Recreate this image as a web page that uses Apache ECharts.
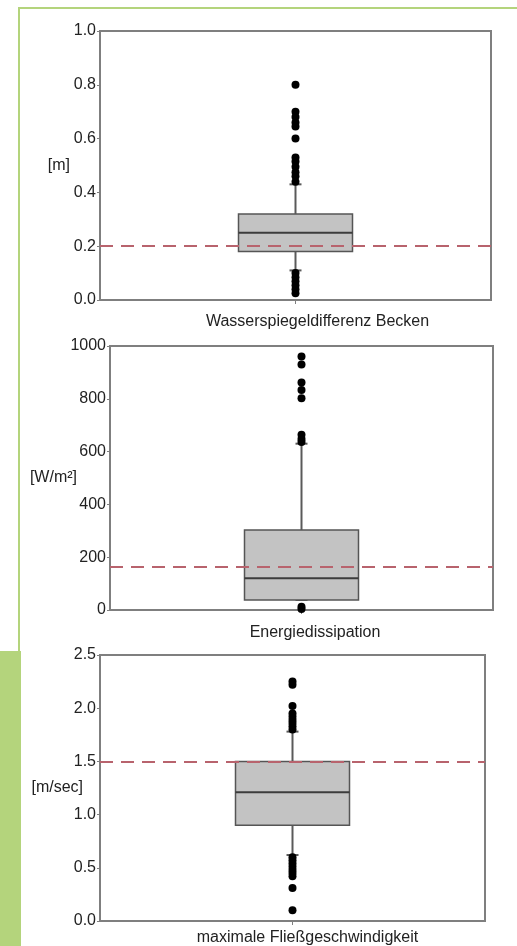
<!DOCTYPE html>
<html>
<head>
<meta charset="utf-8">
<title>Boxplots</title>
<script src="https://cdn.jsdelivr.net/npm/echarts@6/dist/echarts.min.js"></script>
<style>
  html, body { margin: 0; padding: 0; background: #ffffff; }
  #chart { width: 517px; height: 946px; }
</style>
</head>
<body>
<div id="chart"></div>
<script>
// Categories (one box per panel)
const categories = [
  'Wasserspiegeldifferenz Becken',
  'Energiedissipation',
  'maximale Fließgeschwindigkeit'
];

// Axis unit names
const unitNames = ['[m]', '[W/m²]', '[m/sec]'];

// Box statistics: [lower whisker, Q1, median, Q3, upper whisker]
const boxWasserspiegel = [0.11, 0.18, 0.25, 0.32, 0.43];
const boxEnergie = [38, 38, 120, 303, 630];
const boxFliess = [0.62, 0.90, 1.21, 1.50, 1.78];

// Outliers
const outWasserspiegel = [0.80, 0.70, 0.68, 0.66, 0.645, 0.60, 0.53, 0.515, 0.495, 0.475, 0.46, 0.44,
  0.10, 0.085, 0.07, 0.055, 0.04, 0.025];
const outEnergie = [960, 930, 862, 833, 802, 664, 648, 636, 12, 4];
const outFliess = [2.25, 2.22, 2.02, 1.95, 1.92, 1.89, 1.86, 1.83, 1.80,
  0.60, 0.57, 0.54, 0.51, 0.48, 0.45, 0.42, 0.31, 0.10];

// Reference (threshold) values
const refValues = [0.2, 162, 1.5];

// Y axis ranges and tick labels
const yMin = [0, 0, 0];
const yMax = [1.0, 1000, 2.5];
const yInterval = [0.2, 200, 0.5];
const ticksWasserspiegel = ['0.0', '0.2', '0.4', '0.6', '0.8', '1.0'];
const ticksEnergie = ['0', '200', '400', '600', '800', '1000'];
const ticksFliess = ['0.0', '0.5', '1.0', '1.5', '2.0', '2.5'];

const boxes = [boxWasserspiegel, boxEnergie, boxFliess];
const outliers = [outWasserspiegel, outEnergie, outFliess];
const tickLabels = [ticksWasserspiegel, ticksEnergie, ticksFliess];

// Panel layout
const grids = [
  { left: 100, right: 26, top: 31, height: 269 },
  { left: 110, right: 24, top: 346, height: 264 },
  { left: 100, right: 32, top: 655, height: 267 }
];
const nameGaps = [30, 33, 17];
const catLabelShift = [44, 27, 30];
const catLabelMargin = [14, 15, 9];

const FONT = '"Liberation Sans", Arial, sans-serif';
const TEXT = '#222222';
const AXIS = '#7f7f7f';

function renderBox(params, api) {
  const c = api.value(0);
  const pMin = api.coord([c, api.value(1)]);
  const pQ1 = api.coord([c, api.value(2)]);
  const pMed = api.coord([c, api.value(3)]);
  const pQ3 = api.coord([c, api.value(4)]);
  const pMax = api.coord([c, api.value(5)]);
  const x = pMed[0];
  const hw = 57;
  const cap = 6;
  const whisker = { stroke: '#5a5a5a', lineWidth: 2 };
  return {
    type: 'group',
    children: [
      { type: 'line', shape: { x1: x, y1: pQ3[1], x2: x, y2: pMax[1] }, style: whisker },
      { type: 'line', shape: { x1: x, y1: pQ1[1], x2: x, y2: pMin[1] }, style: whisker },
      { type: 'line', shape: { x1: x - cap, y1: pMax[1], x2: x + cap, y2: pMax[1] }, style: whisker },
      { type: 'line', shape: { x1: x - cap, y1: pMin[1], x2: x + cap, y2: pMin[1] }, style: whisker },
      {
        type: 'rect',
        shape: { x: x - hw, y: pQ3[1], width: hw * 2, height: pQ1[1] - pQ3[1] },
        style: { fill: '#c3c3c3', stroke: '#555555', lineWidth: 1.5 }
      },
      { type: 'line', shape: { x1: x - hw, y1: pMed[1], x2: x + hw, y2: pMed[1] },
        style: { stroke: '#3c3c3c', lineWidth: 2 } }
    ]
  };
}

const option = {
  backgroundColor: '#ffffff',
  animation: false,
  textStyle: { fontFamily: FONT },
  graphic: [
    // light green page frame
    { type: 'rect', shape: { x: 19, y: 7, width: 498, height: 2 }, style: { fill: '#b4d47c' }, silent: true },
    { type: 'rect', shape: { x: 18, y: 7, width: 2, height: 645 }, style: { fill: '#b4d47c' }, silent: true },
    { type: 'rect', shape: { x: 0, y: 651, width: 21, height: 295 }, style: { fill: '#b4d47c' }, silent: true }
  ],
  grid: grids.map(g => Object.assign({
    show: true, borderColor: AXIS, borderWidth: 2, backgroundColor: 'transparent'
  }, g)),
  xAxis: categories.map((cat, i) => ({
    type: 'category',
    gridIndex: i,
    data: [cat],
    axisLine: { show: true, lineStyle: { color: AXIS, width: 2 } },
    axisTick: { show: true, alignWithLabel: true, length: 4, lineStyle: { color: AXIS } },
    axisLabel: {
      color: TEXT, fontSize: 16, fontFamily: FONT,
      margin: catLabelMargin[i],
      padding: [0, 0, 0, catLabelShift[i]]
    },
    splitLine: { show: false }
  })),
  yAxis: unitNames.map((nm, i) => ({
    type: 'value',
    gridIndex: i,
    min: yMin[i],
    max: yMax[i],
    interval: yInterval[i],
    name: nm,
    nameLocation: 'middle',
    nameRotate: 0,
    nameGap: nameGaps[i],
    nameMoveOverlap: false,
    nameTextStyle: { color: TEXT, fontSize: 16, fontFamily: FONT, align: 'right', verticalAlign: 'middle' },
    axisLine: { show: true, lineStyle: { color: AXIS, width: 2 } },
    axisTick: { show: true, length: 3, lineStyle: { color: AXIS } },
    axisLabel: {
      color: TEXT, fontSize: 16, fontFamily: FONT, margin: 4,
      formatter: (v, idx) => tickLabels[i][idx]
    },
    splitLine: { show: false }
  })),
  series: [].concat(
    boxes.map((b, i) => ({
      type: 'custom',
      xAxisIndex: i,
      yAxisIndex: i,
      z: 2,
      renderItem: renderBox,
      encode: { x: 0, y: [1, 2, 3, 4, 5] },
      data: [[0].concat(b)]
    })),
    outliers.map((o, i) => ({
      type: 'scatter',
      xAxisIndex: i,
      yAxisIndex: i,
      z: 4,
      symbol: 'circle',
      symbolSize: 8,
      itemStyle: { color: '#000000', opacity: 1 },
      data: o.map(v => [0, v]),
      markLine: {
        silent: true,
        symbol: ['none', 'none'],
        label: { show: false },
        lineStyle: { color: '#b8636d', width: 2, type: [13, 8] },
        data: [{ yAxis: refValues[i] }]
      }
    }))
  )
};

const chart = echarts.init(document.getElementById('chart'), null, { renderer: 'canvas' });
chart.setOption(option);
</script>
</body>
</html>
